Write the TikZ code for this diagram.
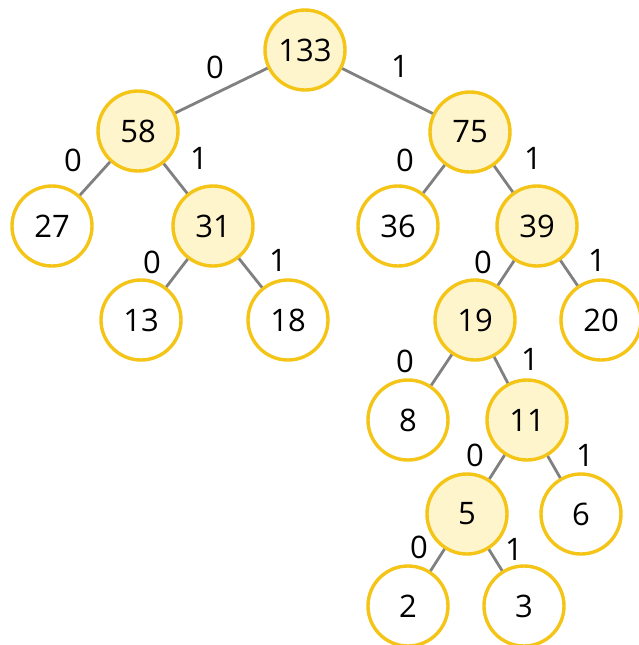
\documentclass[tikz,border=0pt]{standalone}
\usepackage{fontspec}
\setmainfont{Open Sans}
\usepackage{tikz}
\usetikzlibrary{positioning}
\definecolor{treegold}{RGB}{244, 196, 22}
\definecolor{treefill}{RGB}{255, 245, 205}
\definecolor{treeedge}{RGB}{128, 128, 128}

\begin{document}
\begin{tikzpicture}[
  x=0.5pt, y=-0.5pt,
  every node/.style={font=\fontsize{15.5}{17}\selectfont},
  leaf/.style={circle, draw=treegold, line width=1.7pt, fill=white, minimum size=40pt, inner sep=0pt},
  inner/.style={leaf, fill=treefill},
  edge/.style={draw=treeedge, line width=1.4pt},
  bit/.style={inner sep=1pt}
]
  \useasboundingbox (0,0) rectangle (639,645);

  % Knoten
  \node[inner] (n133) at (305, 50) {133};
  \node[inner] (n58) at (138, 131) {58};
  \node[inner] (n75) at (470, 132) {75};
  \node[leaf] (n27) at (52, 226) {27};
  \node[inner] (n31) at (213, 226) {31};
  \node[leaf] (n36) at (398, 226) {36};
  \node[inner] (n39) at (537, 226) {39};
  \node[leaf] (n13) at (141, 320) {13};
  \node[leaf] (n18) at (288, 320) {18};
  \node[inner] (n19) at (475, 320) {19};
  \node[leaf] (n20) at (601, 320) {20};
  \node[leaf] (n8) at (408, 420) {8};
  \node[inner] (n11) at (527, 420) {11};
  \node[inner] (n5) at (467, 514) {5};
  \node[leaf] (n6) at (581, 514) {6};
  \node[leaf] (n2) at (408, 606) {2};
  \node[leaf] (n3) at (524, 606) {3};

  % Kanten
  \draw[edge] (n133) -- (n58);
  \draw[edge] (n133) -- (n75);
  \draw[edge] (n58) -- (n27);
  \draw[edge] (n58) -- (n31);
  \draw[edge] (n75) -- (n36);
  \draw[edge] (n75) -- (n39);
  \draw[edge] (n31) -- (n13);
  \draw[edge] (n31) -- (n18);
  \draw[edge] (n39) -- (n19);
  \draw[edge] (n39) -- (n20);
  \draw[edge] (n19) -- (n8);
  \draw[edge] (n19) -- (n11);
  \draw[edge] (n11) -- (n5);
  \draw[edge] (n11) -- (n6);
  \draw[edge] (n5) -- (n2);
  \draw[edge] (n5) -- (n3);

  % Bits
  \node[bit] (b58) at (215, 67) {0};
  \node[bit] (b75) at (400, 66) {1};
  \node[bit] (b27) at (73, 160) {0};
  \node[bit] (b31) at (199, 158) {1};
  \node[bit] (b36) at (405, 160) {0};
  \node[bit] (b39) at (533, 158) {1};
  \node[bit] (b13) at (152, 262) {0};
  \node[bit] (b18) at (278, 260) {1};
  \node[bit] (b19) at (483, 262) {0};
  \node[bit] (b20) at (597, 260) {1};
  \node[bit] (b8) at (405, 361) {0};
  \node[bit] (b11) at (530, 359) {1};
  \node[bit] (b5) at (475, 455) {0};
  \node[bit] (b6) at (585, 455) {1};
  \node[bit] (b2) at (419, 547) {0};
  \node[bit] (b3) at (514, 549) {1};

\end{tikzpicture}
\end{document}
